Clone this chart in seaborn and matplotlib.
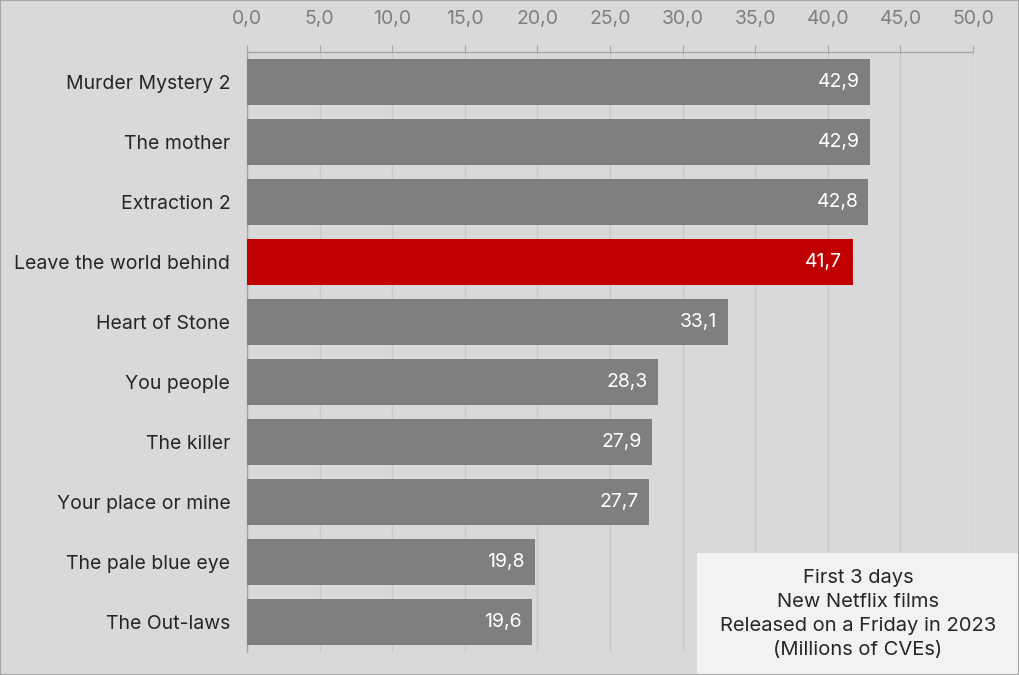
import matplotlib
matplotlib.use("Agg")
import matplotlib.pyplot as plt
import seaborn as sns
import pandas as pd

# --- Data ---
films = ["Murder Mystery 2", "The mother", "Extraction 2", "Leave the world behind",
         "Heart of Stone", "You people", "The killer", "Your place or mine",
         "The pale blue eye", "The Out-laws"]
views = [42.9, 42.9, 42.8, 41.7, 33.1, 28.3, 27.9, 27.7, 19.8, 19.6]
highlight = "Leave the world behind"
x_ticks = [0, 5, 10, 15, 20, 25, 30, 35, 40, 45, 50]

BG = "#D9D9D9"
GREY_BAR = "#7F7F7F"
RED_BAR = "#C00000"

sns.set_theme(style="white")
plt.rcParams['font.family'] = ['Inter', 'DejaVu Sans']

df = pd.DataFrame({"film": films, "views": views})
palette = {f: (RED_BAR if f == highlight else GREY_BAR) for f in films}

fig = plt.figure(figsize=(10.19, 6.75), dpi=100, facecolor=BG)
ax = fig.add_axes([0.2424, 0.034, 0.7125, 0.889])
ax.set_facecolor(BG)

sns.barplot(data=df, y="film", x="views", hue="film", palette=palette,
            legend=False, width=0.77, saturation=1, ax=ax, zorder=3,
            edgecolor="none", linewidth=0)

# value labels inside bar ends
for i, v in enumerate(views):
    ax.text(v - 0.7, i, f"{v:.1f}".replace(".", ","), ha="right", va="center",
            color="white", fontsize=14, zorder=4)

ax.set_xlim(0, 50)
ax.set_ylim(len(films) - 0.5, -0.5)
ax.set_xticks(x_ticks)
ax.set_xticklabels([f"{t:.1f}".replace(".", ",") for t in x_ticks])
ax.xaxis.tick_top()
ax.tick_params(axis="x", colors="#A6A6A6", labelsize=14, length=5, width=0.8,
               labelcolor="#7F7F7F", pad=12)
ax.tick_params(axis="y", labelsize=14, labelcolor="#262626", length=0, pad=12)
ax.set_xlabel("")
ax.set_ylabel("")
# y ticks between categories like the original
ax.set_yticks([i + 0.5 for i in range(-1, len(films))], minor=True)
ax.tick_params(axis="y", which="minor", length=5, color="#A6A6A6", width=0.8)

ax.grid(axis="x", color="#C8C8C8", linewidth=1, zorder=0)
for side in ["right", "bottom"]:
    ax.spines[side].set_visible(False)
for side in ["top", "left"]:
    ax.spines[side].set_color("#A6A6A6")
    ax.spines[side].set_linewidth(1)

# note box
fig.patches.append(plt.Rectangle((697 / 1019, 0), 1 - 697 / 1019, 122 / 675,
                                 transform=fig.transFigure, facecolor="#F2F2F2",
                                 edgecolor="none", zorder=5))
fig.text((697 + 1019) / 2 / 1019, 61 / 675,
         "First 3 days\nNew Netflix films\nReleased on a Friday in 2023\n(Millions of CVEs)",
         ha="center", va="center", fontsize=14.5, color="#262626", linespacing=1.45,
         zorder=6)

# thin frame around figure
fig.patches.append(plt.Rectangle((0, 0), 1, 1, transform=fig.transFigure,
                                 facecolor="none", edgecolor="#A6A6A6",
                                 linewidth=1.5, zorder=7))

fig.savefig("out.png", dpi=100, facecolor=BG)
